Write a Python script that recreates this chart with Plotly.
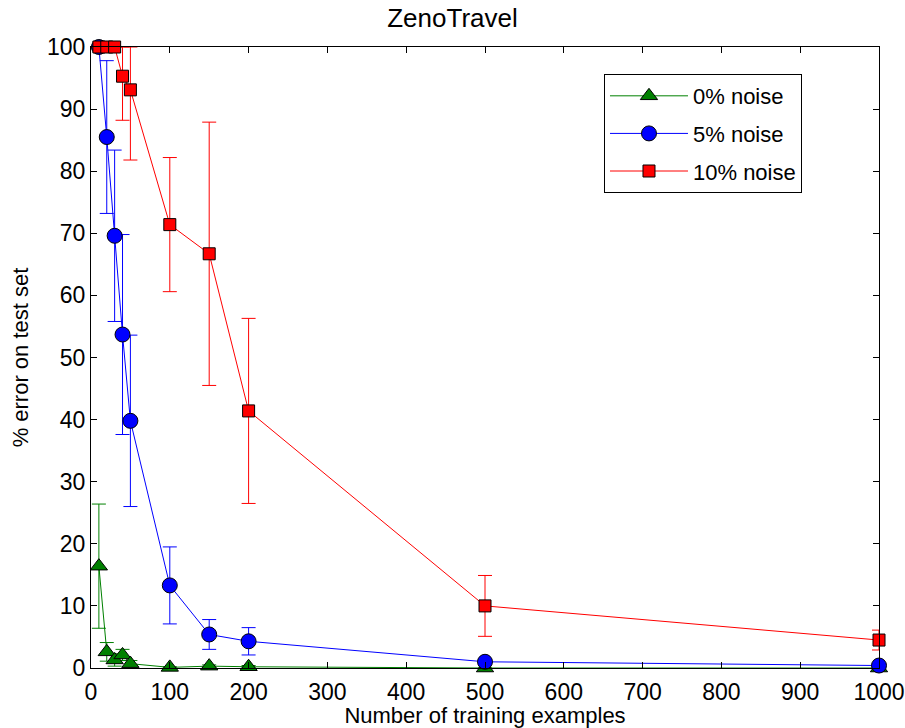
import plotly.graph_objects as go

x_vals = [10, 20, 30, 40, 50, 100, 150, 200, 500, 1000]

noise0 = [16.4, 2.6, 1.3, 2.1, 0.7, 0.1, 0.3, 0.2, 0.0, 0.0]
noise0_err = [10.0, 1.5, 1.0, 0.9, 0.5, 0.1, 0.2, 0.2, 0.0, 0.0]

noise5 = [100.0, 85.5, 69.6, 53.7, 39.8, 13.3, 5.4, 4.3, 1.0, 0.4]
noise5_err = [0.0, 12.3, 13.8, 16.1, 13.8, 6.2, 2.4, 2.2, 0.3, 0.2]

noise10 = [100.0, 100.0, 100.0, 95.3, 93.1, 71.4, 66.7, 41.4, 10.0, 4.5]
noise10_err = [0.0, 0.0, 0.0, 7.1, 11.3, 10.8, 21.2, 14.9, 4.9, 1.6]

series = [
    ("0% noise", noise0, noise0_err, "#008000", "triangle-up", 15),
    ("5% noise", noise5, noise5_err, "#0000ff", "circle", 15),
    ("10% noise", noise10, noise10_err, "#ff0000", "square", 12),
]

fig = go.Figure()
for i, (name, ys, errs, color, sym, size) in enumerate(series):
    up = [min(e, 100 - y) for y, e in zip(ys, errs)]
    fig.add_trace(go.Scatter(
        x=x_vals, y=ys, name=name, mode="lines+markers",
        legendgroup=name,
        line=dict(color=color, width=1),
        marker=dict(symbol=sym, size=size, color=color,
                    line=dict(color="black", width=1)),
        error_y=dict(type="data", array=up, arrayminus=errs, symmetric=False,
                     color=color, thickness=1, width=7),
        cliponaxis=False,
    ))

axis_common = dict(
    showline=True, linecolor="black", linewidth=1, mirror="ticks",
    ticks="inside", ticklen=6, tickcolor="black", showgrid=False,
    zeroline=False, tickfont=dict(size=23, color="black"), automargin=False,
)

fig.update_layout(
    width=905, height=728,
    margin=dict(l=91, r=26, t=47, b=60),
    paper_bgcolor="white", plot_bgcolor="white",
    font=dict(family="Liberation Sans, Arial, sans-serif", color="black"),
    title=dict(text="ZenoTravel", x=0.5, xanchor="center", y=0.975, yanchor="middle",
               font=dict(size=26, color="black")),
    xaxis=dict(range=[0, 1000], tickmode="linear", tick0=0, dtick=100,
               ticklabelstandoff=3,
               title=dict(text="Number of training examples", font=dict(size=22), standoff=1),
               **axis_common),
    yaxis=dict(range=[0, 100], tickmode="linear", tick0=0, dtick=10,
               title=dict(text="% error on test set", font=dict(size=22), standoff=12),
               **axis_common),
    legend=dict(x=0.651, y=0.9565, xanchor="left", yanchor="top",
                bordercolor="black", borderwidth=1, bgcolor="white",
                font=dict(size=22, color="black"), tracegroupgap=6,
                itemwidth=78, entrywidth=126),
    showlegend=True,
)

fig.write_html("out.html", config={"displayModeBar": False},
               post_script="document.body.style.margin='0px';")
